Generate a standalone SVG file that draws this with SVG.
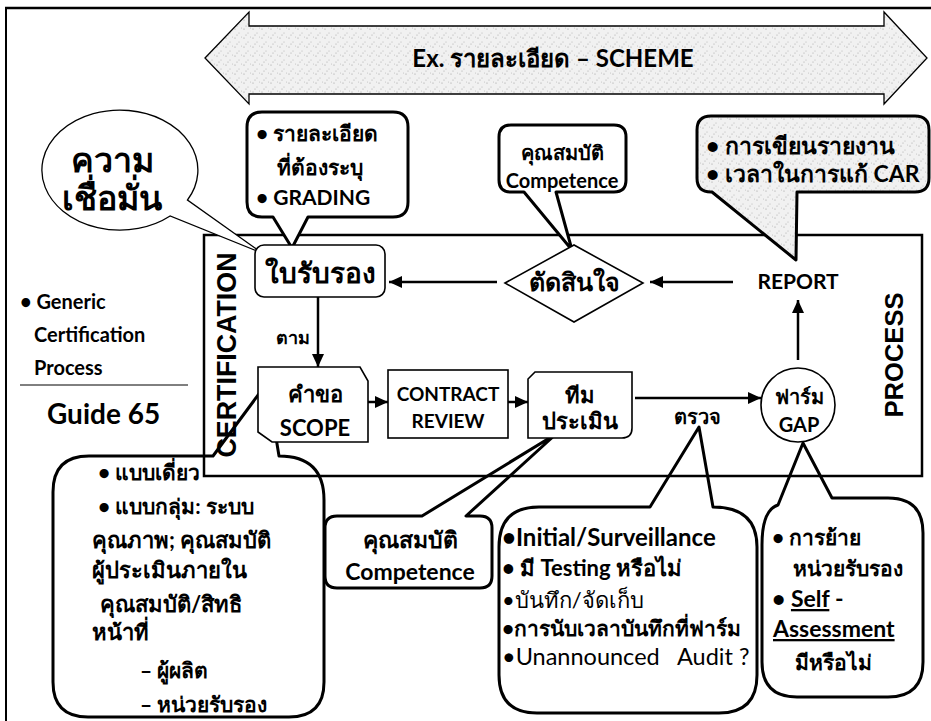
<svg xmlns="http://www.w3.org/2000/svg" width="931" height="721" viewBox="0 0 931 721">
<style>
text{font-family:Lato,"Liberation Sans","Noto Sans CJK SC",sans-serif;font-weight:bold;fill:#000}
.reg{font-weight:normal}
.blk{font-weight:900}
.mid{text-anchor:middle}
.co{fill:#fff;stroke:#000;stroke-width:3;stroke-linejoin:round}
.nd{fill:#fff;stroke:#000;stroke-width:1.6}
.cn{stroke:#000;stroke-width:2.5;fill:none}
.fr{stroke:#000;fill:none}
</style>
<defs>
<pattern id="speck" width="9" height="9" patternUnits="userSpaceOnUse">
<rect width="9" height="9" fill="#f1f1f1"/>
<circle cx="1" cy="2" r="0.6" fill="#9a9a9a"/>
<circle cx="5" cy="6" r="0.5" fill="#aaa"/>
<circle cx="7.5" cy="1" r="0.5" fill="#bbb"/>
<circle cx="3" cy="8" r="0.5" fill="#999"/>
</pattern>
<marker id="ah" markerUnits="userSpaceOnUse" markerWidth="14" markerHeight="12" refX="13" refY="6" orient="auto">
<path d="M0,0 L13,6 L0,12 Z" fill="#000"/>
</marker>
</defs>

<g id="scheme-arrow">
<path d="M205,58 L249,12 L249,26 L884,26 L884,12 L927,58 L884,104 L884,94 L249,94 L249,104 Z" fill="url(#speck)" stroke="#000" stroke-width="1.3"/>
<text x="553" y="67" class="mid" font-size="24">Ex. รายละเอียด – SCHEME</text>
</g>

<g id="guide-label">
<text x="20" y="309" font-size="20">• Generic</text>
<text x="34" y="342" font-size="20">Certification</text>
<text x="34" y="375" font-size="20">Process</text>
<line x1="20" y1="385" x2="188" y2="385" stroke="#000" stroke-width="1"/>
<text x="47" y="424" font-size="28">Guide 65</text>
</g>

<g id="callout-scope">
<path class="co" d="M53,492 Q53,456 89,456 H213 L267,383 L279,456 Q324,456 324,500 V682 Q324,717 289,717 H88 Q53,717 53,682 Z"/>
<text x="98" y="480" font-size="21">• แบบเดี่ยว</text>
<text x="98" y="514" font-size="21">• แบบกลุ่ม: ระบบ</text>
<text x="92" y="548" font-size="22">คุณภาพ; คุณสมบัติ</text>
<text x="92" y="578" font-size="22">ผู้ประเมินภายใน</text>
<text x="100" y="612" font-size="22">คุณสมบัติ/สิทธิ</text>
<text x="92" y="640" font-size="22">หน้าที่</text>
<text x="140" y="678" class="blk" font-size="21">– ผู้ผลิต</text>
<text x="140" y="712" class="blk" font-size="21">– หน่วยรับรอง</text>
</g>

<g id="callout-competence-bottom">
<path class="co" d="M337,516 H422 L556,434 L466,516 H480 Q492,516 492,528 V576 Q492,588 480,588 H337 Q325,588 325,576 V528 Q325,516 337,516 Z"/>
<text x="410" y="548" class="mid" font-size="23">คุณสมบัติ</text>
<text x="410" y="580" class="mid" font-size="23">Competence</text>
</g>

<g id="callout-audit">
<path class="co" d="M499,547 Q499,507 539,507 H650 L699,427 L713,507 Q757,507 757,547 V675 Q757,713 719,713 H537 Q499,713 499,675 Z"/>
<text x="502" y="546" font-size="24">•Initial/Surveillance</text>
<text x="502" y="576" font-size="22">• มี Testing หรือไม่</text>
<text x="502" y="608" class="reg" font-size="22">•บันทึก/จัดเก็บ</text>
<text x="502" y="636" font-size="21">•การนับเวลาบันทึกที่ฟาร์ม</text>
<text x="502" y="665" class="reg" font-size="23.5" style="white-space:pre">•Unannounced   Audit ?</text>
</g>

<g id="callout-gap">
<path class="co" d="M762,545 Q762,510 778,505 L803,443 L832,498 H888 Q923,498 923,533 V662 Q923,697 888,697 H797 Q762,697 762,662 Z"/>
<text x="772" y="545" font-size="21">• การย้าย</text>
<text x="793" y="576" font-size="21">หน่วยรับรอง</text>
<text x="772" y="607" font-size="23">•  <tspan text-decoration="underline">Self</tspan> -</text>
<text x="773" y="637" font-size="23" text-decoration="underline">Assessment</text>
<text x="795" y="670" font-size="21">มีหรือไม่</text>
</g>

<g id="frame">
<line class="fr" x1="5" y1="8" x2="931" y2="8" stroke-width="2.5"/>
<line class="fr" x1="6" y1="7" x2="6" y2="721" stroke-width="2"/>
<rect class="fr" x="204" y="235" width="718" height="241" stroke-width="2.5"/>
<text transform="translate(236,355) rotate(-90)" class="mid" style="font-family:'Liberation Sans',sans-serif" font-size="28" textLength="205" lengthAdjust="spacingAndGlyphs">CERTIFICATION</text>
<text transform="translate(903,355) rotate(-90)" class="mid" style="font-family:'Liberation Sans',sans-serif" font-size="26" textLength="125" lengthAdjust="spacingAndGlyphs">PROCESS</text>
</g>

<g id="callout-confidence">
<path d="M170.1,216 A78,60 0 1 1 187.5,200 L262,253 Z" fill="#fff" stroke="#000" stroke-width="1.3"/>
<text x="112" y="172" class="mid blk" font-size="34">ความ</text>
<text x="112" y="210" class="mid blk" font-size="34">เชื่อมั่น</text>
</g>

<g id="callout-grading">
<path class="co" d="M262,112 H393 Q408,112 408,127 V202 Q408,217 393,217 H308 L292,248 L273,217 H262 Q247,217 247,202 V127 Q247,112 262,112 Z"/>
<text x="256" y="141" font-size="21">• รายละเอียด</text>
<text x="277" y="175" font-size="21">ที่ต้องระบุ</text>
<text x="256" y="205" font-size="21">• GRADING</text>
</g>

<g id="callout-competence-top">
<path class="co" d="M511,125 H614 Q626,125 626,137 V180 Q626,192 614,192 H556 L572,250 L524,192 H511 Q499,192 499,180 V137 Q499,125 511,125 Z"/>
<text x="562" y="160" class="mid" font-size="20">คุณสมบัติ</text>
<text x="562" y="188" class="mid" font-size="20">Competence</text>
</g>

<g id="callout-report">
<path d="M711,116 H915 Q929,116 929,130 V178 Q929,192 915,192 H797 L796,260 L712,192 H711 Q697,192 697,178 V130 Q697,116 711,116 Z" fill="url(#speck)" stroke="#000" stroke-width="3" stroke-linejoin="round"/>
<text x="706" y="154" font-size="23">• การเขียนรายงาน</text>
<text x="706" y="182" font-size="23">• เวลาในการแก้ CAR</text>
</g>

<g id="node-certificate">
<rect class="nd" x="255" y="245" width="130" height="52" rx="9"/>
<text x="320" y="283" class="mid" font-size="28">ใบรับรอง</text>
</g>

<g id="node-decide">
<polygon class="nd" points="505,283 574,245 643,283 574,322"/>
<text x="574" y="291" class="mid" font-size="25">ตัดสินใจ</text>
</g>

<g id="node-report">
<text x="798" y="289" class="mid" font-size="21">REPORT</text>
</g>

<g id="node-scope">
<polygon class="nd" points="258,367 360,367 368,381 368,442 272,442 258,432"/>
<text x="315" y="402" class="mid" font-size="22">คำขอ</text>
<text x="315" y="436" class="mid" font-size="22">SCOPE</text>
</g>

<g id="node-contract">
<rect class="nd" x="388" y="370" width="120" height="68"/>
<text x="448" y="401" class="mid" font-size="19">CONTRACT</text>
<text x="448" y="428" class="mid" font-size="19">REVIEW</text>
</g>

<g id="node-team">
<path class="nd" d="M535,372 H632 V428 Q632,438 622,438 H528 V379 Z"/>
<text x="580" y="403" class="mid" font-size="22">ทีม</text>
<text x="580" y="429" class="mid" font-size="22">ประเมิน</text>
</g>

<g id="node-gap">
<circle class="nd" cx="798" cy="405" r="37"/>
<text x="799" y="404" class="mid" font-size="20">ฟาร์ม</text>
<text x="799" y="432" class="mid" font-size="20">GAP</text>
</g>

<g id="connectors">
<line class="cn" x1="497" y1="282" x2="389" y2="282" marker-end="url(#ah)"/>
<line class="cn" x1="733" y1="282" x2="650" y2="282" marker-end="url(#ah)"/>
<line class="cn" x1="798" y1="360" x2="798" y2="300" marker-end="url(#ah)"/>
<line class="cn" x1="318" y1="297" x2="318" y2="367" marker-end="url(#ah)"/>
<line class="cn" x1="368" y1="402" x2="388" y2="402" marker-end="url(#ah)"/>
<line class="cn" x1="508" y1="402" x2="528" y2="402" marker-end="url(#ah)"/>
<line class="cn" x1="635" y1="398" x2="761" y2="398" marker-end="url(#ah)"/>
<text x="293" y="344" class="mid" font-size="18">ตาม</text>
<text x="697" y="424" class="mid" font-size="20">ตรวจ</text>
</g>
</svg>
